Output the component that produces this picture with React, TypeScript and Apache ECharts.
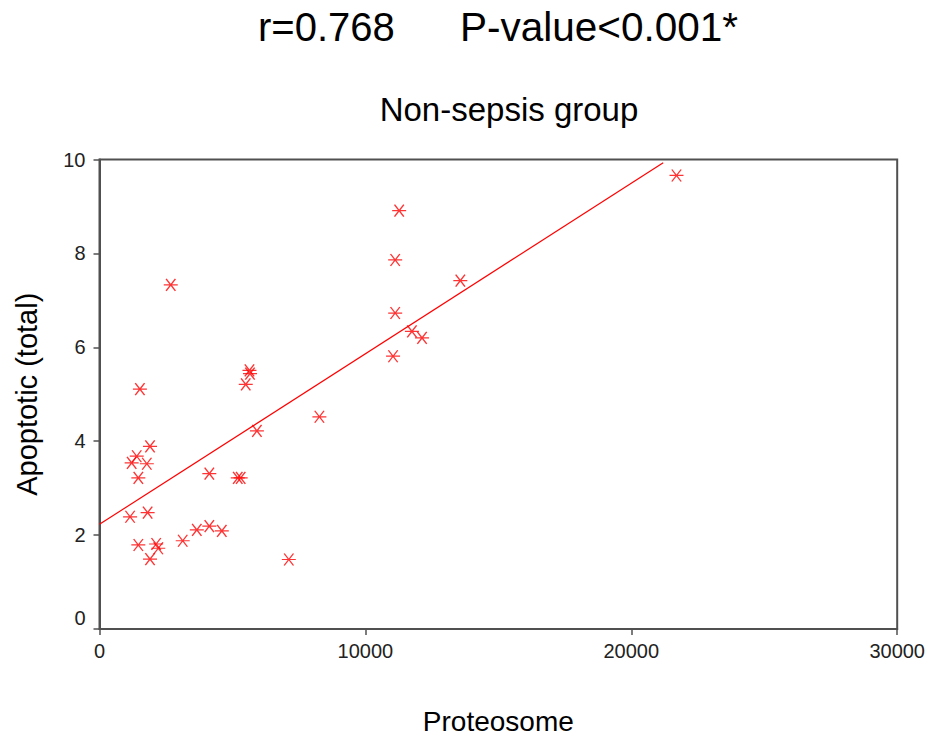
import React, { useEffect, useRef } from "react";
import * as echarts from "echarts";

const proteosome = [
  21700, 11270, 11120, 13570, 2680, 11120, 11750, 12130, 11040, 5640, 5660, 5500,
  1520, 8270, 5920, 1900, 1400, 1210, 1780, 1460, 4130, 5200, 5310, 1810, 1150,
  3660, 4130, 4600, 3130, 1460, 2130, 2210, 1900, 7120,
];
const apoptotic = [
  9.66, 8.91, 7.86, 7.42, 7.33, 6.73, 6.34, 6.2, 5.81, 5.51, 5.44, 5.21, 5.11,
  4.52, 4.22, 3.89, 3.68, 3.54, 3.52, 3.22, 3.31, 3.22, 3.22, 2.48, 2.39, 2.11,
  2.19, 2.09, 1.88, 1.79, 1.81, 1.72, 1.49, 1.48,
];
const fitX = [0, 21200];
const fitY = [2.23, 9.93];

const statText = "r=0.768";
const pText = "P-value<0.001*";
const subTitle = "Non-sepsis group";
const xName = "Proteosome";
const yName = "Apoptotic (total)";

const RED = "#ff0000";
const AXIS = "#505050";
const FONT = "Arial, 'Liberation Sans', sans-serif";
const TICKFONT = "'Liberation Sans Narrow', 'Arial Narrow', 'Liberation Sans', sans-serif";

const asterisk = "path://M0,5 L12,5 M2,0 L10,10 M10,0 L2,10";

export default function App() {
  const ref = useRef<HTMLDivElement>(null);
  useEffect(() => {
    if (!ref.current) return;
    const chart = echarts.init(ref.current, undefined, { renderer: "svg" });
    const points = proteosome.map((x, i) => [x, apoptotic[i]]);
    const fit = fitX.map((x, i) => [x, fitY[i]]);
    chart.setOption({
      animation: false,
      backgroundColor: "#ffffff",
      graphic: [
        {
          type: "text",
          x: 258,
          y: 27,
          style: {
            text: statText,
            font: `40px ${FONT}`,
            fill: "#000",
            verticalAlign: "middle",
            align: "left",
          },
        },
        {
          type: "text",
          x: 460,
          y: 27,
          style: {
            text: pText,
            font: `40.5px ${FONT}`,
            fill: "#000",
            verticalAlign: "middle",
            align: "left",
          },
        },
        {
          type: "text",
          x: 509,
          y: 109,
          style: {
            text: subTitle,
            font: `33px ${FONT}`,
            fill: "#000",
            verticalAlign: "middle",
            align: "center",
          },
        },
      ],
      grid: {
        left: 99.5,
        right: 26,
        top: 159.5,
        bottom: 100,
        show: true,
        borderColor: AXIS,
        borderWidth: 2,
        containLabel: false,
      },
      xAxis: {
        type: "value",
        min: 0,
        max: 30000,
        interval: 10000,
        name: xName,
        nameLocation: "middle",
        nameGap: 78,
        nameTextStyle: { fontFamily: FONT, fontSize: 28, color: "#000" },
        axisLine: { show: true, onZero: false, lineStyle: { color: AXIS, width: 2 } },
        axisTick: { show: true, length: 6, lineStyle: { color: AXIS, width: 1.5 } },
        axisLabel: {
          fontFamily: TICKFONT,
          fontSize: 20,
          color: "#222",
          margin: 12,
          formatter: (v: number) => String(v),
        },
        splitLine: { show: false },
      },
      yAxis: {
        type: "value",
        min: 0,
        max: 10,
        interval: 2,
        name: yName,
        nameLocation: "middle",
        nameGap: 58,
        nameRotate: 90,
        nameTextStyle: { fontFamily: FONT, fontSize: 29, color: "#000" },
        axisLine: { show: true, onZero: false, lineStyle: { color: AXIS, width: 2 } },
        axisTick: { show: true, length: 6, lineStyle: { color: AXIS, width: 1.5 } },
        axisLabel: {
          fontFamily: TICKFONT,
          fontSize: 20,
          color: "#222",
          margin: 14,
          formatter: (v: number) => (v === 0 ? "{up|0}" : String(v)),
          rich: {
            up: {
              fontFamily: TICKFONT,
              fontSize: 20,
              color: "#222",
              padding: [0, 0, 22, 0],
            },
          },
        },
        splitLine: { show: false },
      },
      series: [
        {
          type: "line",
          data: fit,
          symbol: "none",
          lineStyle: { color: RED, width: 1.2 },
          z: 1,
          silent: true,
        },
        {
          type: "scatter",
          data: points,
          symbol: asterisk,
          symbolSize: [14, 12],
          itemStyle: { color: "rgba(0,0,0,0)", borderColor: RED, borderWidth: 1.3 },
          z: 2,
        },
      ],
    });
    return () => chart.dispose();
  }, []);
  return (
    <div
      ref={ref}
      style={{ position: "absolute", left: 0, top: 0, width: 928, height: 740 }}
    />
  );
}
